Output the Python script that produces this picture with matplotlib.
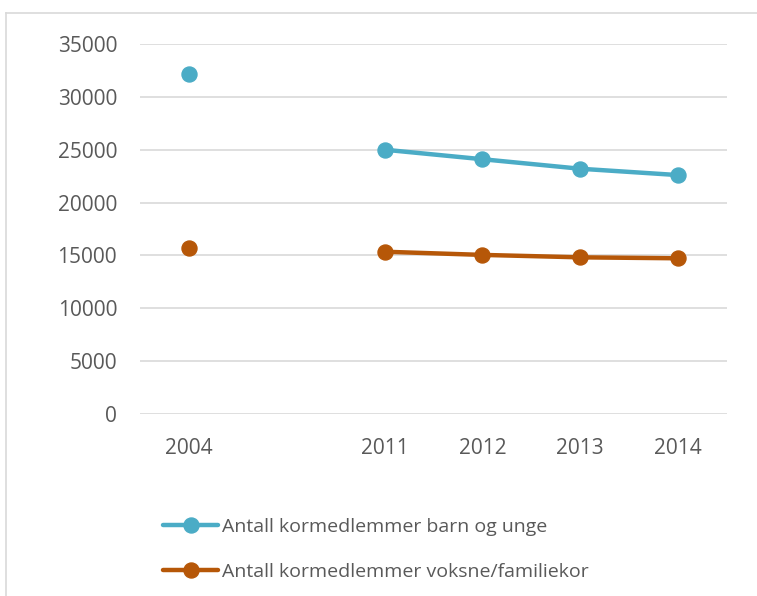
import matplotlib

matplotlib.use("Agg")

import matplotlib.pyplot as plt
import numpy as np
from matplotlib.lines import Line2D

categories = ["2004", "", "2011", "2012", "2013", "2014"]
barn_unge = [32200, np.nan, 25000, 24100, 23200, 22600]
voksne = [15700, np.nan, 15350, 15050, 14820, 14730]
series_labels = ["Antall kormedlemmer barn og unge",
                 "Antall kormedlemmer voksne/familiekor"]
y_ticks = [0, 5000, 10000, 15000, 20000, 25000, 30000, 35000]

plt.rcParams["font.family"] = ["Open Sans", "DejaVu Sans"]
TEXT = "#595959"
GRID = "#D9D9D9"

W, H = 757, 596
fig = plt.figure(figsize=(W / 100, H / 100), dpi=100)
ax = fig.add_axes([140 / W, 1 - 414 / H, (727 - 140) / W, (414 - 44) / H])

x = np.arange(len(categories))
ax.plot(x, barn_unge, color="#4BACC6", lw=3.2, marker="o", ms=10.8,
        label=series_labels[0], solid_capstyle="round")
ax.plot(x, voksne, color="#B65708", lw=3.2, marker="o", ms=10.8,
        label=series_labels[1], solid_capstyle="round")

ax.set_xlim(-0.5, len(categories) - 0.5)
ax.set_ylim(0, 35000)
ax.set_yticks(y_ticks)
ax.set_yticklabels([str(v) for v in y_ticks])
ax.set_xticks(x)
ax.set_xticklabels(categories)
ax.tick_params(axis="both", length=0, labelsize=15, colors=TEXT)
ax.tick_params(axis="y", pad=16.5)
ax.tick_params(axis="x", pad=17)
ax.grid(True, axis="y", color=GRID, lw=1.2)
ax.set_axisbelow(True)
for s in ax.spines.values():
    s.set_visible(False)

leg = ax.legend(loc="upper left", bbox_to_anchor=(163 / W, 1 - 518 / H),
                bbox_transform=fig.transFigure, frameon=False, fontsize=14,
                handlelength=2.85, handletextpad=0.2, labelspacing=1.4,
                borderpad=0, borderaxespad=0)
for t in leg.get_texts():
    t.set_color(TEXT)

# outer chart frame, cropped on the right and bottom
top = 1 - 13 / H
fig.add_artist(Line2D([6 / W, 1.0], [top, top], transform=fig.transFigure,
                      color=GRID, lw=1.2))
fig.add_artist(Line2D([6 / W, 6 / W], [0, top], transform=fig.transFigure,
                      color=GRID, lw=1.2))

fig.savefig("out.png", dpi=100)
